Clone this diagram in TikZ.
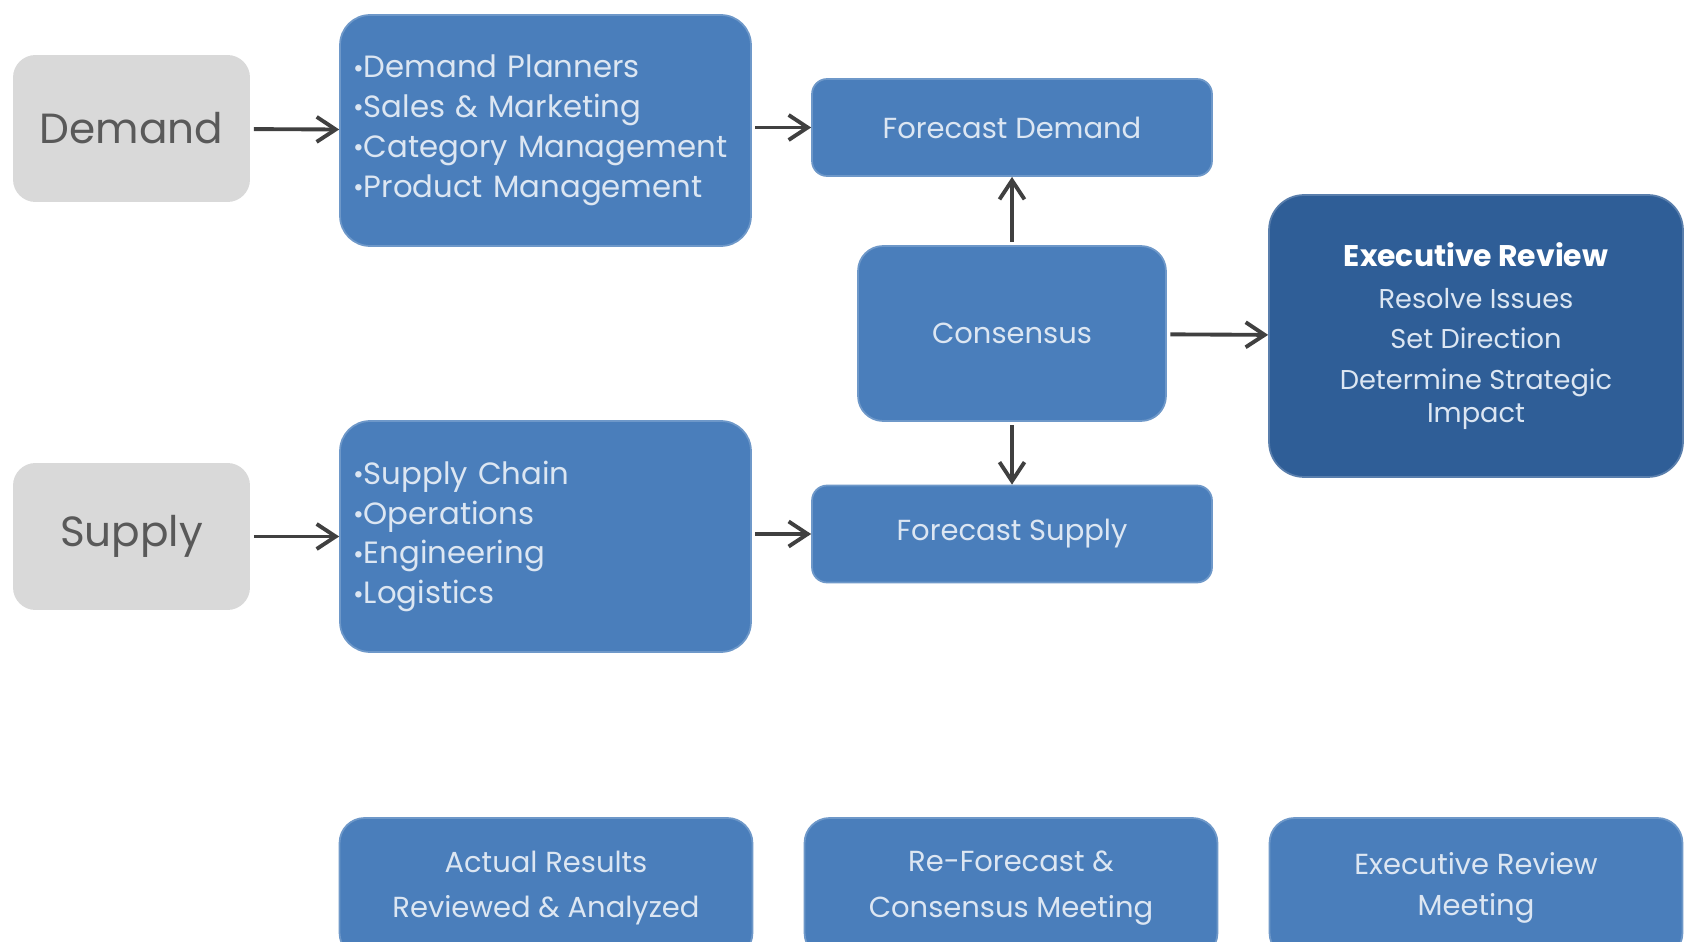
\documentclass[tikz,border=0pt]{standalone}
\usepackage{fontspec}
\usepackage{graphicx}
\setmainfont{Poppins}
\usetikzlibrary{arrows.meta}
\definecolor{boxblue}{HTML}{4A7EBB}
\definecolor{darkblue}{HTML}{2F5E97}
\definecolor{boxgray}{HTML}{D9D9D9}
\definecolor{graytext}{HTML}{595959}
\definecolor{lighttext}{HTML}{DCE6F2}
\definecolor{arrowgray}{HTML}{404040}
\newcommand{\blt}{\raisebox{0.05ex}{\scalebox{0.85}{•}}}
\tikzset{
  sourcebox/.style={fill=boxgray, rounded corners=0.45cm, minimum width=4.74cm,
    minimum height=2.94cm, text=graytext, font=\fontsize{24}{28}\selectfont},
  listbox/.style={fill=boxblue, draw=boxblue!80!white, line width=1pt,
    rounded corners=0.6cm, minimum width=8.22cm, minimum height=4.62cm,
    inner xsep=0.26cm, text width=7.7cm, align=left, text=lighttext,
    font=\fontsize{17.5}{22.7}\selectfont},
  forecastbox/.style={fill=boxblue, draw=boxblue!80!white, line width=1pt,
    rounded corners=0.3cm, minimum width=8cm, minimum height=1.94cm,
    align=center, text=lighttext, font=\fontsize{16.5}{20}\selectfont},
  execbox/.style={fill=darkblue, draw=darkblue!80!white, line width=1pt,
    rounded corners=0.7cm, minimum width=8.28cm, minimum height=5.64cm,
    align=center, text=lighttext, font=\fontsize{15.5}{19}\selectfont},
  meetbox/.style={fill=boxblue, draw=boxblue!80!white, line width=1pt,
    rounded corners=0.5cm, minimum width=8.26cm, minimum height=2.8cm,
    align=center, text=lighttext, font=\fontsize{16.5}{23}\selectfont},
  flow/.style={->, draw=arrowgray, line width=2.2pt, shorten <=2pt}
}
\begin{document}
\begin{tikzpicture}[x=0.02cm, y=-0.02cm,
    >={Straight Barb[length=3.8mm,width=5mm,line width=2.2pt]}]
\clip (0,0) rectangle (1688,942);
\fill[white] (0,0) rectangle (1688,942);

\node[sourcebox] (demand) at (131.5,128.5) {Demand};
\node[listbox] (demandteam) at (545.5,130.5) {\blt Demand Planners\\
  \blt Sales \& Marketing\\ \blt Category Management\\ \blt Product Management};
\node[forecastbox] (fcdemand) at (1012,127.5) {Forecast Demand};

\node[forecastbox, minimum width=6.16cm, minimum height=3.5cm,
  rounded corners=0.5cm] (consensus) at (1012,333.5) {Consensus};
\node[execbox] (exec) at (1476,336) {{\fontsize{17}{19}\selectfont\bfseries
  \color{white}Executive Review}\\[5pt] Resolve Issues\\[4pt] Set Direction\\[4pt]
  Determine Strategic\\ Impact};

\node[sourcebox] (supply) at (131.5,536.5) {Supply};
\node[listbox] (supplyteam) at (545.5,536.5) {\blt Supply Chain\\
  \blt Operations\\ \blt Engineering\\ \blt Logistics};
\node[forecastbox] (fcsupply) at (1012,534) {Forecast Supply};

\node[meetbox] (actual) at (546,888) {Actual Results\\[3pt] Reviewed \& Analyzed};
\node[meetbox] (reforecast) at (1011,888) {Re-Forecast \&\\[3pt] Consensus Meeting};
\node[meetbox] (execmeet) at (1476,888) {Executive Review\\ Meeting};

\draw[flow] (demand) -- (demandteam);
\draw[flow] (demandteam.east |- fcdemand) -- (fcdemand);
\draw[flow] (supply) -- (supplyteam);
\draw[flow] (supplyteam.east |- fcsupply) -- (fcsupply);
\draw[flow] (consensus) -- (fcdemand);
\draw[flow] (consensus) -- (fcsupply);
\draw[flow] (consensus) -- (exec);
\end{tikzpicture}
\end{document}
